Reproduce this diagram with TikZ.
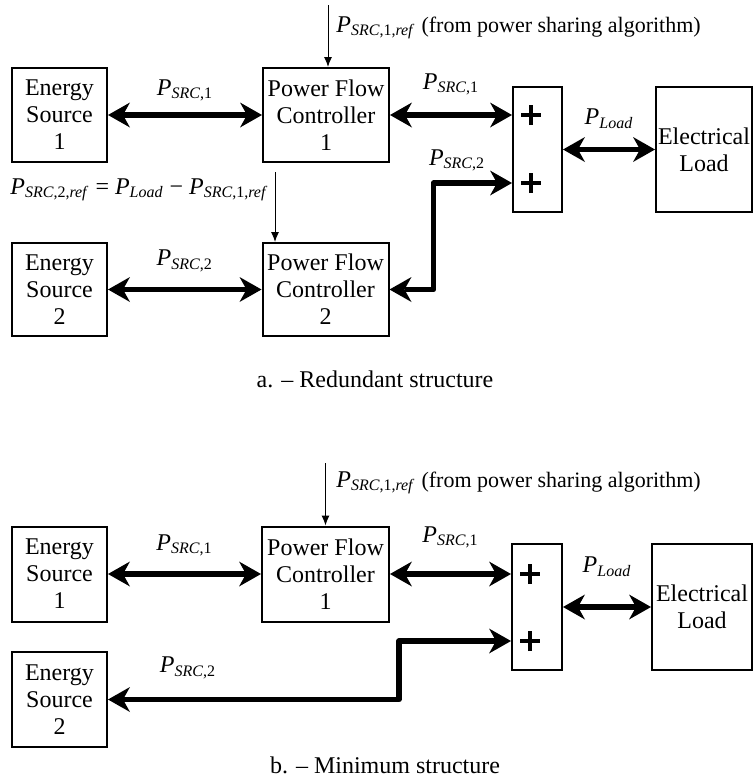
\documentclass[tikz,border=0pt]{standalone}
\usepackage{fontspec}
\setmainfont{Liberation Serif}
\usetikzlibrary{arrows.meta,positioning}

\newcommand{\pw}[1]{\textit{P}\textsubscript{#1}}

\tikzset{
  box/.style={draw, line width=1pt, inner sep=0pt, align=center, font=\fontsize{12}{13.5}\selectfont},
  bus/.style={line width=2.75pt, line join=round,
    {Stealth[length=11pt,width=12.5pt,inset=3.5pt,line width=0pt]}-{Stealth[length=11pt,width=12.5pt,inset=3.5pt,line width=0pt]}},
  ctrl/.style={line width=0.5pt, -{Latex[length=5pt,width=4pt]}},
  lbl/.style={font=\fontsize{12}{14}\selectfont, inner sep=1pt},
  plusbar/.style={line width=2pt},
}

\begin{document}
\begin{tikzpicture}[x=0.5pt, y=-0.5pt]
\useasboundingbox (0,0) rectangle (753,782);
% a. redundant structure
\begin{scope}
  \node[box, minimum width=47.5pt, minimum height=47pt] (es1) at (59.5,115) {Energy\\Source\\1};
  \node[box, minimum width=63pt, minimum height=47pt] (pfc1) at (326,115) {Power Flow\\Controller\\1};
  \node[box, minimum width=24.5pt, minimum height=62.5pt] (sum) at (537.5,149.5) {};
  \node[box, minimum width=48pt, minimum height=62.5pt] (load) at (704,149.5) {Electrical\\Load};
  \node[box, minimum width=47.5pt, minimum height=46.5pt] (es2) at (59.5,289.5) {Energy\\Source\\2};
  \node[box, minimum width=63pt, minimum height=46.5pt] (pfc2) at (325.5,289.5) {Power Flow\\Controller\\2};
  \coordinate (in1) at (sum.west |- pfc1);
  \coordinate (in2) at ([yshift=15pt]sum.south west);
  \coordinate (plus1) at ([xshift=9.5pt]in1);
  \coordinate (plus2) at ([xshift=9.5pt]in2);
  \draw[plusbar] ([xshift=-5pt]plus1) -- ([xshift=5pt]plus1) ([yshift=-5pt]plus1) -- ([yshift=5pt]plus1);
  \draw[plusbar] ([xshift=-5pt]plus2) -- ([xshift=5pt]plus2) ([yshift=-5pt]plus2) -- ([yshift=5pt]plus2);
  % references
  \coordinate (ref1) at (328,5);
  \draw[ctrl] (ref1) -- (ref1 |- pfc1.north);
  \node[lbl, anchor=west] (ref1lbl) at (334,28) {\pw{\textit{SRC},1,\textit{ref}} {\fontsize{11}{13}\selectfont(from power sharing algorithm)}};
  \coordinate (ref2) at (275,172);
  \draw[ctrl] (ref2) -- (ref2 |- pfc2.north);
  \node[lbl, anchor=west] (ref2lbl) at (8,190) {\pw{\textit{SRC},2,\textit{ref}} = \pw{\textit{Load}} − \pw{\textit{SRC},1,\textit{ref}}};
  % power paths
  \draw[bus] (es1) -- node[lbl, above=4.5pt] (p1a) {\pw{\textit{SRC},1}} (pfc1);
  \draw[bus] (pfc1) -- node[lbl, above=7.5pt] (p1b) {\pw{\textit{SRC},1}} (in1);
  \draw[bus] (sum) -- node[lbl, above=8pt] (pl) {\pw{\textit{Load}}} (load);
  \draw[bus] (es2) -- node[lbl, above=6.5pt] (p2a) {\pw{\textit{SRC},2}} (pfc2);
  \draw[bus] (pfc2.east) -- ++(22pt,0) |- node[lbl, pos=0.65, above=3.5pt] (p2b) {\pw{\textit{SRC},2}} (in2);
  \node[lbl] (capa) at (375,379) {a. – Redundant structure};
\end{scope}
% b. minimum structure
\begin{scope}[shift={(0,459)}]
  \node[box, minimum width=47.5pt, minimum height=47.5pt] (es1) at (59.5,115) {Energy\\Source\\1};
  \node[box, minimum width=63.5pt, minimum height=47.5pt] (pfc1) at (325.5,115) {Power Flow\\Controller\\1};
  \node[box, minimum width=25pt, minimum height=63pt] (sum) at (537,148) {};
  \node[box, minimum width=50pt, minimum height=63pt] (load) at (702,148) {Electrical\\Load};
  \node[box, minimum width=47.5pt, minimum height=47.5pt] (es2) at (59.5,240.5) {Energy\\Source\\2};
  \coordinate (in1) at (sum.west |- pfc1);
  \coordinate (in2) at ([yshift=15pt]sum.south west);
  \coordinate (plus1) at ([xshift=9.5pt]in1);
  \coordinate (plus2) at ([xshift=9.5pt]in2);
  \draw[plusbar] ([xshift=-5pt]plus1) -- ([xshift=5pt]plus1) ([yshift=-5pt]plus1) -- ([yshift=5pt]plus1);
  \draw[plusbar] ([xshift=-5pt]plus2) -- ([xshift=5pt]plus2) ([yshift=-5pt]plus2) -- ([yshift=5pt]plus2);
  \coordinate (ref1) at (325.5,4);
  \draw[ctrl] (ref1) -- (ref1 |- pfc1.north);
  \node[lbl, anchor=west] (ref1lbl) at (334,24) {\pw{\textit{SRC},1,\textit{ref}} {\fontsize{11}{13}\selectfont(from power sharing algorithm)}};
  \draw[bus] (es1) -- node[lbl, above=6.5pt] (p1a) {\pw{\textit{SRC},1}} (pfc1);
  \draw[bus] (pfc1) -- node[lbl, above=10.5pt] (p1b) {\pw{\textit{SRC},1}} (in1);
  \draw[bus] (sum) -- node[lbl, above=13pt] (pl) {\pw{\textit{Load}}} (load);
  \draw[bus] (es2.east) -- node[lbl, pos=0.275, above=8pt] (p2a) {\pw{\textit{SRC},2}} ++(145.5pt,0) |- (in2);
  \node[lbl] (capb) at (385,306) {b. – Minimum structure};
\end{scope}
\end{tikzpicture}
\end{document}
